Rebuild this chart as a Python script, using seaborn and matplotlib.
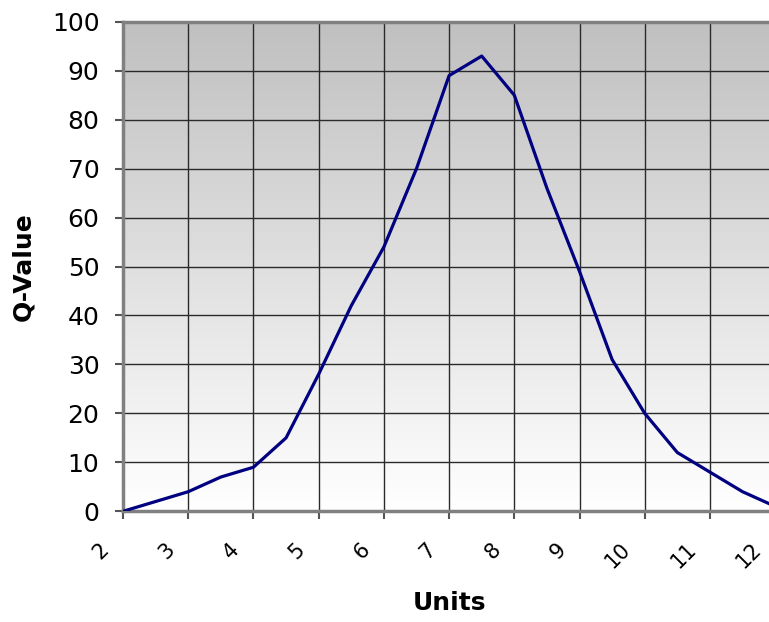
import matplotlib
matplotlib.use('Agg')
import matplotlib.pyplot as plt
import matplotlib.transforms as mtransforms
import numpy as np
import pandas as pd
import seaborn as sns

# Data
units = [2, 2.5, 3, 3.5, 4, 4.5, 5, 5.5, 6, 6.5, 7, 7.5, 8, 8.5, 9, 9.5, 10, 10.5, 11, 11.5, 12]
q_value = [0, 2, 4, 7, 9, 15, 28, 42, 54, 70, 89, 93, 85, 66, 49, 31, 20, 12, 8, 4, 1]
x_ticks = [2, 3, 4, 5, 6, 7, 8, 9, 10, 11, 12]
y_ticks = [0, 10, 20, 30, 40, 50, 60, 70, 80, 90, 100]

df = pd.DataFrame({'Units': units, 'Q-Value': q_value})

sns.set_style('white')
plt.rcParams['font.family'] = ['DejaVu Sans']

fig = plt.figure(figsize=(7.69, 6.22), dpi=100)
ax = fig.add_axes([0.16, 0.178, 0.848, 0.787])

# Gradient background: grey at top, white at bottom
grad = np.linspace(0, 1, 256).reshape(-1, 1)
cmap = matplotlib.colors.LinearSegmentedColormap.from_list('bg', ['#ffffff', '#c0c0c0'])
ax.imshow(grad, extent=[2, 12, 0, 100], origin='lower', aspect='auto', cmap=cmap, zorder=0)

sns.lineplot(data=df, x='Units', y='Q-Value', color='#000080', linewidth=2.3, ax=ax, zorder=3)

ax.set_xlim(2, 12)
ax.set_ylim(0, 100)
ax.set_xticks(x_ticks)
ax.set_yticks(y_ticks)
ax.set_xticklabels([str(t) for t in x_ticks], rotation=45, fontsize=15, ha='right', color='black')
ax.tick_params(axis='y', labelsize=18, labelcolor='black', pad=11)
ax.tick_params(axis='x', pad=14)
ax.tick_params(axis='both', direction='out', length=6, width=1.5, color='#555555', left=True, bottom=True)

# shift rotated x labels a little to the left
offset = mtransforms.ScaledTranslation(-0.1, 0, fig.dpi_scale_trans)
for lab in ax.get_xticklabels():
    lab.set_transform(lab.get_transform() + offset)

ax.grid(True, color='#2a2a2a', linewidth=1, zorder=1)
for line in ax.get_xgridlines() + ax.get_ygridlines():
    line.set_zorder(1)

for side in ['left', 'bottom', 'top']:
    ax.spines[side].set_color('#808080')
    ax.spines[side].set_linewidth(2.5)
ax.spines['right'].set_visible(False)

ax.set_xlabel('Units', fontsize=18, fontweight='bold', labelpad=14, color='black')
ax.set_ylabel('Q-Value', fontsize=18, fontweight='bold', labelpad=12, color='black')

plt.savefig('out.png', dpi=100)
